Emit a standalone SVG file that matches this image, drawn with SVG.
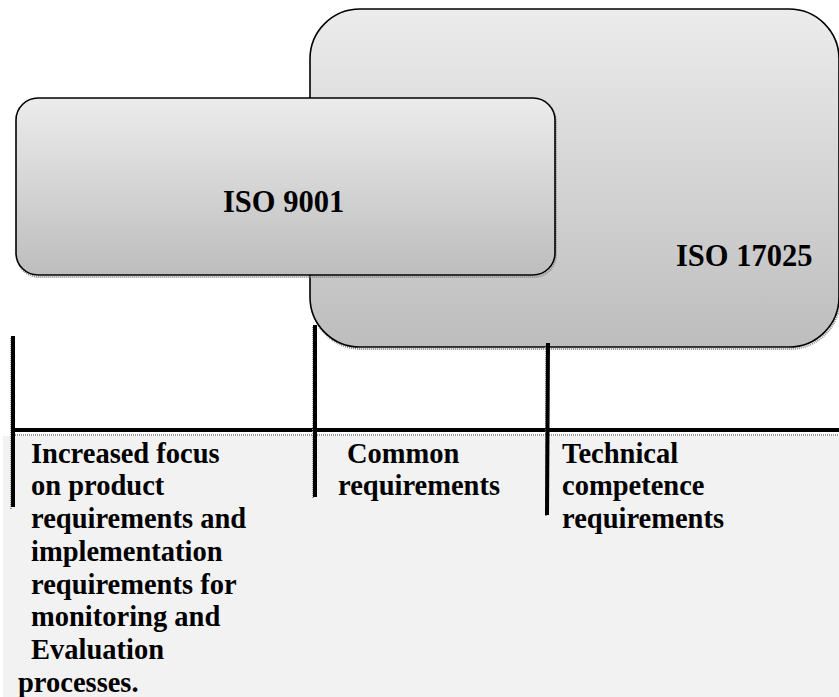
<svg xmlns="http://www.w3.org/2000/svg" width="839" height="697" viewBox="0 0 839 697">
  <defs>
    <linearGradient id="boxFill" x1="0" y1="0" x2="0" y2="1">
      <stop offset="0" stop-color="#ececec"/>
      <stop offset="1" stop-color="#bdbdbd"/>
    </linearGradient>
  </defs>
  <style>
    .box { fill: url(#boxFill); stroke: #000; stroke-width: 1.6; }
    .shadow { fill: none; stroke: #8a8a8a; stroke-width: 2; stroke-dasharray: 1 1; }
    .head { font-family: "Liberation Serif", "Times New Roman", serif; font-weight: bold; font-size: 30.5px; fill: #000; }
    .body { font-family: "Liberation Serif", "Times New Roman", serif; font-weight: bold; font-size: 28.5px; fill: #000; }
    .bar { stroke: #000; stroke-width: 4; fill: none; }
    .barShadow { stroke: #9a9a9a; stroke-width: 2; stroke-dasharray: 1 1; fill: none; }
  </style>

  <!-- lower panel -->
  <rect x="3" y="436" width="836" height="261" fill="#f2f2f2"/>

  <!-- large rounded box -->
  <g id="iso17025">
    <rect class="shadow" x="311" y="11" width="529" height="338" rx="50"/>
    <rect class="box" x="310" y="9" width="529" height="338" rx="50"/>
    <text class="head" x="676" y="266">ISO 17025</text>
  </g>

  <!-- smaller rounded box -->
  <g id="iso9001">
    <rect class="shadow" x="17" y="100" width="539" height="177" rx="22"/>
    <rect class="box" x="16" y="98" width="539" height="177" rx="22"/>
    <text class="head" x="223" y="212">ISO 9001</text>
  </g>

  <!-- axis and ticks -->
  <g id="connectors">
    <line class="barShadow" x1="13" y1="435" x2="839" y2="435"/>
    <line class="bar" x1="13" y1="430" x2="839" y2="430"/>
    <line class="barShadow" x1="11" y1="338" x2="11" y2="509"/>
    <line class="bar" x1="13" y1="336" x2="13" y2="507"/>
    <line class="barShadow" x1="313" y1="327" x2="313" y2="499"/>
    <line class="bar" x1="315" y1="325" x2="315" y2="497"/>
    <line class="barShadow" x1="546" y1="345" x2="546" y2="517"/>
    <line class="bar" x1="548" y1="343" x2="547" y2="515"/>
  </g>

  <!-- column labels -->
  <g id="label-9001">
    <text class="body" x="31" y="463">Increased focus</text>
    <text class="body" x="31" y="495">on product</text>
    <text class="body" x="31" y="528">requirements and</text>
    <text class="body" x="31" y="561">implementation</text>
    <text class="body" x="31" y="594">requirements for</text>
    <text class="body" x="31" y="626">monitoring and</text>
    <text class="body" x="31" y="659">Evaluation</text>
    <text class="body" x="18" y="692">processes.</text>
  </g>
  <g id="label-common">
    <text class="body" x="347" y="463">Common</text>
    <text class="body" x="338" y="495">requirements</text>
  </g>
  <g id="label-17025">
    <text class="body" x="562" y="463">Technical</text>
    <text class="body" x="562" y="495">competence</text>
    <text class="body" x="562" y="528">requirements</text>
  </g>
</svg>
